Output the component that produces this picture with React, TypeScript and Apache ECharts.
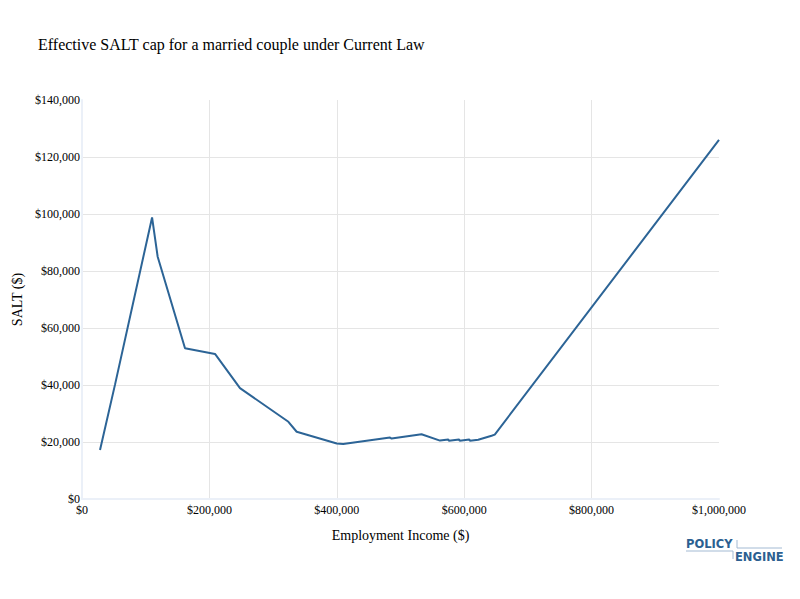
import React, { useEffect, useRef } from "react";
import * as echarts from "echarts";

const titleText = "Effective SALT cap for a married couple under Current Law";
const xAxisName = "Employment Income ($)";
const yAxisName = "SALT ($)";

const income = [
  28300, 52000, 110000, 118800, 161700, 208800, 248000, 324000, 337000, 400000,
  410000, 483500, 486000, 533000, 562000, 575000, 576000, 592000, 593000, 608000,
  609000, 622000, 643000, 648000, 1000000,
];
const salt = [
  17200, 40300, 98800, 85000, 52900, 50900, 38900, 27100, 23600, 19500,
  19300, 21600, 21200, 22700, 20500, 20900, 20400, 20900, 20400, 20900,
  20400, 20800, 22200, 22600, 126000,
];

const xTicks = { min: 0, max: 1000000, interval: 200000 };
const yTicks = { min: 0, max: 140000, interval: 20000 };

const money = (v: number) => "$" + Math.round(v).toLocaleString("en-US");

export default function App() {
  const ref = useRef<HTMLDivElement>(null);
  useEffect(() => {
    if (!ref.current) return;
    const chart = echarts.init(ref.current, undefined, { renderer: "svg" });
    const serif = "Liberation Serif";
    const logoBlue = "#2c5f91";
    const logoLine = "#a3bad3";
    const data = income.map((x, i) => [x, salt[i]]);
    chart.setOption({
      animation: false,
      backgroundColor: "#ffffff",
      title: {
        text: titleText,
        left: 33,
        top: 31,
        textStyle: { fontFamily: serif, fontSize: 16, fontWeight: "normal", color: "#000" },
      },
      grid: { left: 82, right: 81, top: 100, bottom: 100, containLabel: false },
      xAxis: {
        type: "value",
        min: xTicks.min,
        max: xTicks.max,
        interval: xTicks.interval,
        name: xAxisName,
        nameLocation: "middle",
        nameGap: 29,
        nameTextStyle: { fontFamily: serif, fontSize: 14, color: "#000" },
        axisLine: { show: true, lineStyle: { color: "#EBF0F8", width: 2 } },
        axisTick: { show: false },
        axisLabel: { fontFamily: serif, fontSize: 12, color: "#000", margin: 5, formatter: money },
        splitLine: { show: true, showMinLine: false, showMaxLine: false, lineStyle: { color: "#e5e5e5", width: 1 } },
      },
      yAxis: {
        type: "value",
        min: yTicks.min,
        max: yTicks.max,
        interval: yTicks.interval,
        name: yAxisName,
        nameLocation: "middle",
        nameGap: 58,
        nameTextStyle: { fontFamily: serif, fontSize: 14, color: "#000" },
        axisLine: { show: true, lineStyle: { color: "#EBF0F8", width: 2 } },
        axisTick: { show: false },
        axisLabel: { fontFamily: serif, fontSize: 12, color: "#000", margin: 2, formatter: money },
        splitLine: { show: true, showMinLine: false, showMaxLine: false, lineStyle: { color: "#e5e5e5", width: 1 } },
      },
      series: [
        {
          type: "line",
          data,
          showSymbol: false,
          symbol: "none",
          lineStyle: { color: "#2c6496", width: 2 },
          itemStyle: { color: "#2c6496" },
          z: 5,
        },
      ],
      graphic: [
        {
          type: "text",
          x: 686,
          y: 538,
          style: { text: "POLICY", fill: logoBlue, font: "bold 11.5px 'DejaVu Sans'", verticalAlign: "top", align: "left" },
        },
        {
          type: "text",
          x: 735,
          y: 551,
          style: { text: "ENGINE", fill: logoBlue, font: "bold 11.5px 'DejaVu Sans'", verticalAlign: "top", align: "left" },
        },
        { type: "line", shape: { x1: 686, y1: 551, x2: 733, y2: 551 }, style: { stroke: logoLine, lineWidth: 1 } },
        { type: "line", shape: { x1: 733, y1: 551, x2: 733, y2: 559 }, style: { stroke: logoLine, lineWidth: 1 } },
        { type: "line", shape: { x1: 737, y1: 540, x2: 737, y2: 548 }, style: { stroke: logoLine, lineWidth: 1 } },
        { type: "line", shape: { x1: 737, y1: 548, x2: 782, y2: 548 }, style: { stroke: logoLine, lineWidth: 1 } },
      ],
    });
    return () => chart.dispose();
  }, []);
  return (
    <div
      ref={ref}
      style={{ position: "fixed", left: 0, top: 0, width: 800, height: 599, background: "#fff" }}
    />
  );
}
